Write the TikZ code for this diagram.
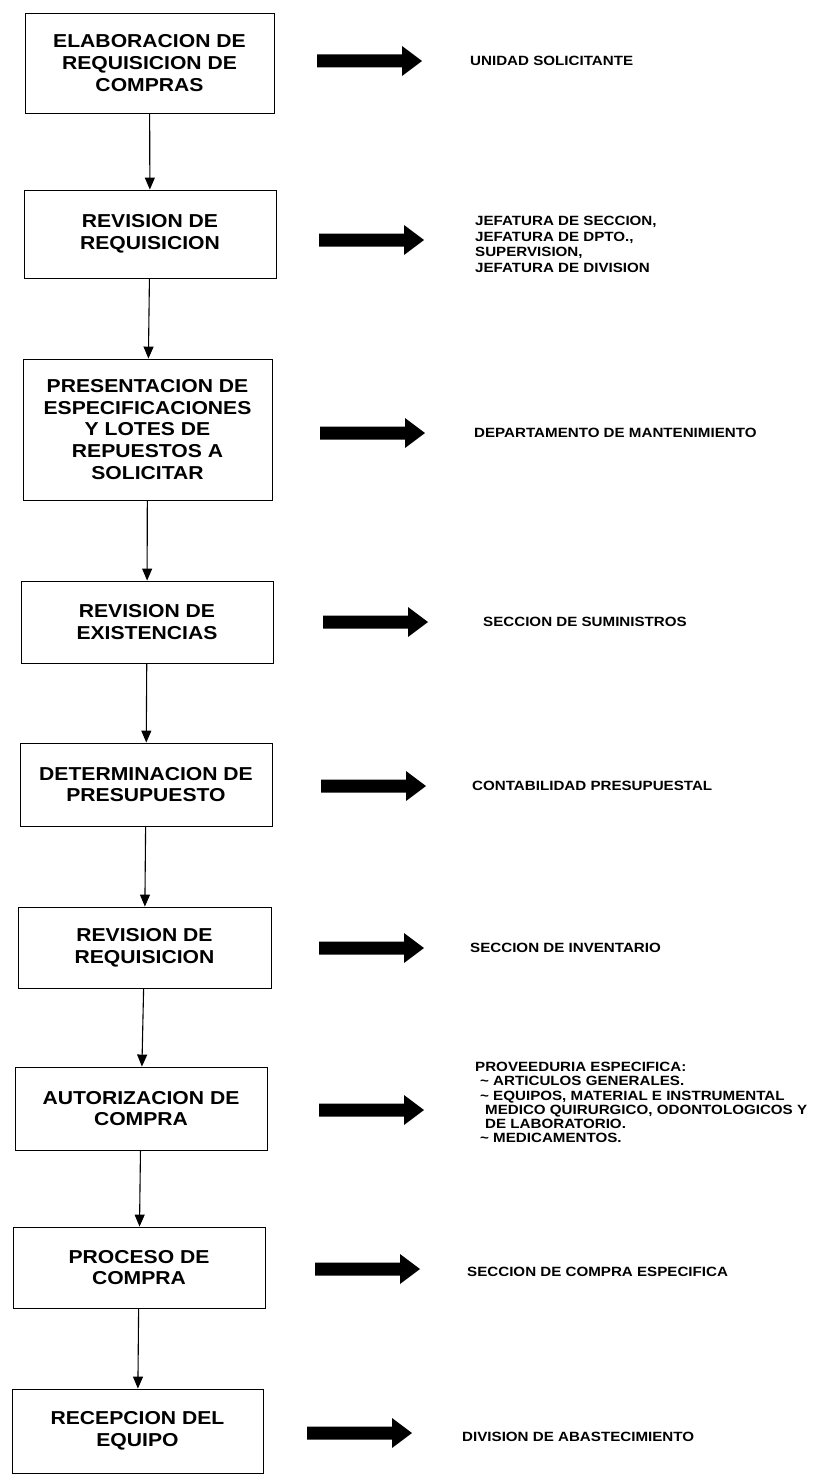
\documentclass[tikz,border=0pt]{standalone}
\usepackage{fontspec}
\setmainfont{Liberation Sans}[FakeStretch=1.13]
\usetikzlibrary{arrows.meta}
\tikzset{
  stepbox/.style={draw=black, line width=0.9pt, fill=white, align=center, inner sep=0pt,
    font=\bfseries\fontsize{18.7}{21.7}\selectfont},
  unitlabel/.style={anchor=west, align=left, inner sep=0pt,
    font=\bfseries\fontsize{13.4}{15.5}\selectfont},
  flow/.style={line width=1.1pt, -{Triangle[length=12pt,width=10pt]}},
  bigarrow/.pic={\fill[black] (0,-6.5) -- (85,-6.5) -- (85,-15) -- (105,0) -- (85,15) -- (85,6.5) -- (0,6.5) -- cycle;}
}
\begin{document}
\begin{tikzpicture}[x=1pt,y=-1pt]
\useasboundingbox (0,0) rectangle (826,1480);
\fill[white] (0,0) rectangle (826,1480);

% process steps
\node[stepbox, minimum width=249, minimum height=100] (b1) at (149.5,63)
  {ELABORACION DE\\REQUISICION DE\\COMPRAS};
\node[stepbox, minimum width=252, minimum height=88] (b2) at (150,234)
  {REVISION DE\\REQUISICION};
\node[stepbox, minimum width=249, minimum height=141] (b3) at (147.5,429.5)
  {PRESENTACION DE\\ESPECIFICACIONES\\Y LOTES DE\\REPUESTOS A\\SOLICITAR};
\node[stepbox, minimum width=252, minimum height=82] (b4) at (147,622)
  {REVISION DE\\EXISTENCIAS};
\node[stepbox, minimum width=252, minimum height=83] (b5) at (146,784.5)
  {DETERMINACION DE\\PRESUPUESTO};
\node[stepbox, minimum width=253, minimum height=81] (b6) at (144.5,947.5)
  {REVISION DE\\REQUISICION};
\node[stepbox, minimum width=252, minimum height=83] (b7) at (141,1108.5)
  {AUTORIZACION DE\\COMPRA};
\node[stepbox, minimum width=252, minimum height=81] (b8) at (139,1267.5)
  {PROCESO DE\\COMPRA};
\node[stepbox, minimum width=251, minimum height=84] (b9) at (137.5,1431)
  {RECEPCION DEL\\EQUIPO};

% flow between steps
\foreach \a/\b in {b1/b2,b2/b3,b3/b4,b4/b5,b5/b6,b6/b7,b7/b8,b8/b9}
  \draw[flow] (\a) -- (\b);

% responsible units
\pic at (317,61) {bigarrow};
\node[unitlabel] (u1) at (470,61) {UNIDAD SOLICITANTE};

\pic at (319,240) {bigarrow};
\node[unitlabel] (u2) at (475,244.5)
  {JEFATURA DE SECCION,\\JEFATURA DE DPTO.,\\SUPERVISION,\\JEFATURA DE DIVISION};

\pic at (320,433) {bigarrow};
\node[unitlabel] (u3) at (474,433) {DEPARTAMENTO DE MANTENIMIENTO};

\pic at (323,622) {bigarrow};
\node[unitlabel] (u4) at (483,622) {SECCION DE SUMINISTROS};

\pic at (321,786) {bigarrow};
\node[unitlabel] (u5) at (472,786) {CONTABILIDAD PRESUPUESTAL};

\pic at (319,948) {bigarrow};
\node[unitlabel] (u6) at (470,948) {SECCION DE INVENTARIO};

\pic at (319,1110) {bigarrow};
\node[unitlabel, font=\bfseries\fontsize{13.4}{14.2}\selectfont] (u7) at (475,1102.5)
  {PROVEEDURIA ESPECIFICA:\\
   \hspace*{5pt}\textasciitilde\ ARTICULOS GENERALES.\\
   \hspace*{5pt}\textasciitilde\ EQUIPOS, MATERIAL E INSTRUMENTAL\\
   \hspace*{10pt}MEDICO QUIRURGICO, ODONTOLOGICOS Y\\
   \hspace*{10pt}DE LABORATORIO.\\
   \hspace*{5pt}\textasciitilde\ MEDICAMENTOS.};

\pic at (315,1269) {bigarrow};
\node[unitlabel] (u8) at (467,1272) {SECCION DE COMPRA ESPECIFICA};

\pic at (307,1433) {bigarrow};
\node[unitlabel] (u9) at (462,1437) {DIVISION DE ABASTECIMIENTO};
\end{tikzpicture}
\end{document}
